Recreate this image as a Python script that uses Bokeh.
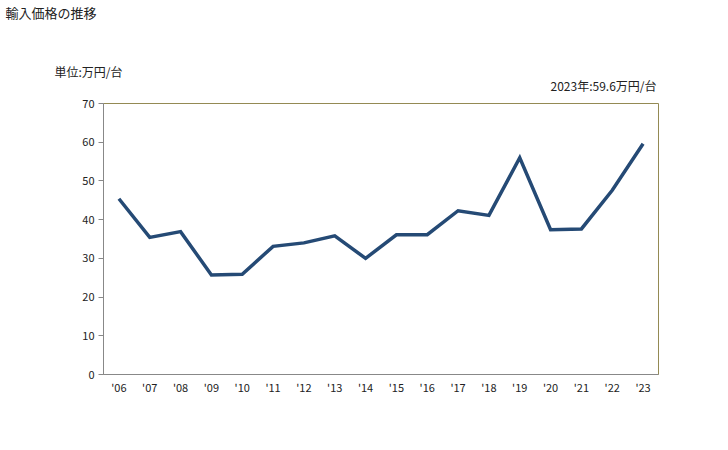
from bokeh.plotting import figure
from bokeh.models import Range1d, FixedTicker, Title
from bokeh.embed import file_html
from bokeh.resources import INLINE

years = ["'06", "'07", "'08", "'09", "'10", "'11", "'12", "'13", "'14",
         "'15", "'16", "'17", "'18", "'19", "'20", "'21", "'22", "'23"]
prices = [45.4, 35.4, 36.9, 25.7, 25.9, 33.1, 34.0, 35.8, 30.0,
          36.1, 36.1, 42.3, 41.1, 56.0, 37.4, 37.6, 47.6, 59.6]
y_ticks = [0, 10, 20, 30, 40, 50, 60, 70]

FONT = "Noto Sans CJK JP"
xs = list(range(len(years)))

p = figure(width=728, height=450, output_backend="svg", toolbar_location=None,
           x_range=Range1d(-0.5, len(years) - 0.5), y_range=Range1d(0, 70),
           min_border_left=103, min_border_right=70, min_border_top=0,
           min_border_bottom=76, title_location=None)
p.background_fill_color = "white"
p.border_fill_color = "white"
p.outline_line_color = "#948A54"
p.outline_line_width = 1
p.grid.visible = False

p.line(xs, prices, line_color="#254A75", line_width=3.5, line_join="miter")

p.xaxis.ticker = FixedTicker(ticks=xs)
p.xaxis.major_label_overrides = {i: y for i, y in enumerate(years)}
p.xaxis.major_tick_line_color = None
p.xaxis.major_tick_out = 0
p.xaxis.major_tick_in = 0
p.xaxis.minor_tick_line_color = None
p.xaxis.axis_line_color = "#888888"
p.xaxis.major_label_text_font = FONT
p.xaxis.major_label_text_font_size = "11px"
p.xaxis.major_label_text_color = "#222222"
p.xaxis.major_label_standoff = 4

p.yaxis.ticker = FixedTicker(ticks=y_ticks)
p.yaxis.minor_tick_line_color = None
p.yaxis.axis_line_color = "#888888"
p.yaxis.major_tick_line_color = "#888888"
p.yaxis.major_tick_out = 5
p.yaxis.major_tick_in = 0
p.yaxis.major_label_text_font = FONT
p.yaxis.major_label_text_font_size = "11px"
p.yaxis.major_label_text_color = "#222222"
p.yaxis.major_label_standoff = 4

common = dict(text_font=FONT, text_color="#222222", text_font_style="normal")
# stacked from the frame outward
p.add_layout(Title(text=" ", text_font_size="12px", standoff=-7.4, **common), "above")
p.add_layout(Title(text="2023年:59.6万円/台", align="right", offset=2,
                   text_font_size="12px", standoff=-5.4, **common), "above")
p.add_layout(Title(text="単位:万円/台", align="left", offset=-49,
                   text_font_size="12px", standoff=-5.4, **common), "above")
p.add_layout(Title(text=" ", text_font_size="12px", standoff=22.8, **common), "above")
p.add_layout(Title(text="輸入価格の推移", align="left", offset=-98,
                   text_font_size="13px", standoff=0, **common), "above")

open("out.html", "w").write(file_html(p, INLINE))
